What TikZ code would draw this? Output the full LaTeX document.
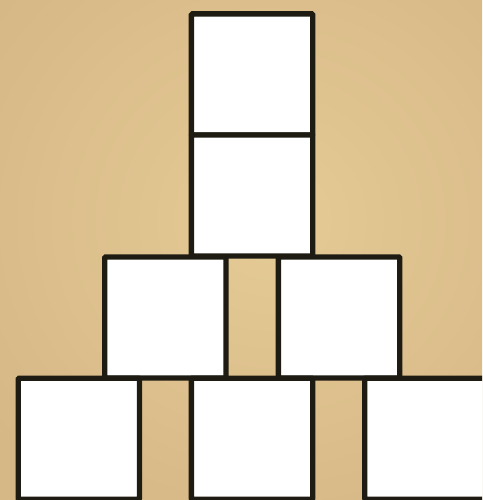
\documentclass[tikz,border=0pt]{standalone}
\begin{document}
\begin{tikzpicture}[x=1pt,y=-1pt,
  block/.style={draw=lineclr, fill=white, line width=5.3pt, rounded corners=1pt,
    minimum width=121.3pt, minimum height=121pt, inner sep=0pt, outer sep=0pt}]
\definecolor{lineclr}{HTML}{1E1C12}
\definecolor{bgin}{HTML}{E5CB95}
\definecolor{bgout}{HTML}{D6B786}
\useasboundingbox (0,0) rectangle (482,500);
\clip (0,0) rectangle (482,500);
\shade[inner color=bgin, outer color=bgout] (-80,-120) rectangle (620,560);
% top column
\node[block] (t1) at (252,74.4) {};
\node[block] (t2) at (252,195.4) {};
% middle row
\node[block] (m1) at (165.4,317.4) {};
\node[block] (m2) at (339,317.4) {};
% bottom row
\node[block] (b1) at (78.8,438.7) {};
\node[block] (b2) at (252,438.7) {};
\node[block] (b3) at (425.4,438.7) {};
\end{tikzpicture}
\end{document}
